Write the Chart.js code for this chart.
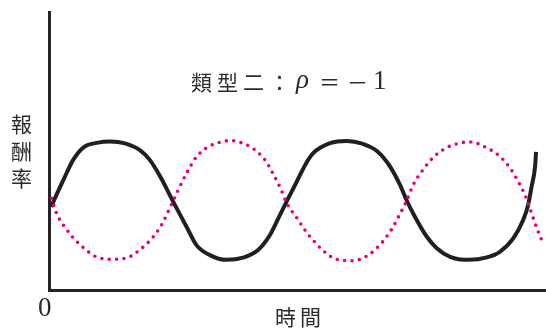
<!DOCTYPE html>
<html>
<head>
<meta charset="utf-8">
<script src="https://cdn.jsdelivr.net/npm/chart.js@4/dist/chart.umd.min.js"></script>
<style>
  body { margin: 0; background: #fff; }
  #wrap { position: relative; width: 546px; height: 329px; }
  .txt { position: absolute; color: #2b2b2b; white-space: nowrap; }
  .cjk { font-family: "Noto Sans CJK TC", "Noto Sans CJK JP", sans-serif; font-weight: 400; }
  .serif { font-family: "Liberation Serif", "DejaVu Serif", serif; }
</style>
</head>
<body>
<div id="wrap">
  <canvas id="chart" width="546" height="329"></canvas>
  <div class="txt cjk" style="left:191px; top:66px; font-size:21px; line-height:30px; letter-spacing:5px;">類型二：</div>
  <div class="txt serif" style="left:296px; top:64px; font-size:27px; line-height:30px; font-style:italic;">ρ</div>
  <div class="txt cjk" style="left:319px; top:66px; font-size:21px; line-height:30px;">＝</div>
  <div class="txt cjk" style="left:347px; top:66px; font-size:21px; line-height:30px;">－</div>
  <div class="txt serif" style="left:373px; top:65px; font-size:27px; line-height:30px;">1</div>
  <div class="txt cjk" style="left:11px; top:110px; font-size:21px; line-height:27px; white-space:normal; width:22px;">報<br>酬<br>率</div>
  <div class="txt cjk" style="left:275px; top:301px; font-size:21px; line-height:30px; letter-spacing:4px;">時間</div>
  <div class="txt serif" style="left:38px; top:292px; font-size:27px; line-height:30px;">0</div>
</div>
<script>
// time axis 0..100, return axis 0..100
var blackTime = [0.3, 2.8, 4.8, 7.0, 9.5, 12.2, 15.2, 18.2, 20.2, 22.3, 24.9, 27.6, 29.6, 32.3, 35.7, 39.0, 42.0, 44.4, 46.4, 48.0, 49.8, 51.5, 53.1, 56.5, 59.9, 63.0, 66.0, 68.6, 70.6, 71.9, 73.6, 76.0, 78.0, 80.7, 84.5, 88.1, 90.7, 93.4, 95.4, 96.4, 97.1, 97.8, 98.0];
var blackReturn = [30.0, 39.7, 47.0, 51.6, 53.0, 53.5, 52.8, 50.4, 46.9, 40.9, 31.9, 22.9, 16.3, 12.7, 11.0, 11.8, 14.5, 19.9, 27.1, 32.8, 39.1, 45.1, 49.3, 52.9, 53.7, 52.7, 50.0, 44.5, 37.9, 32.5, 26.5, 19.3, 15.2, 12.1, 11.0, 11.9, 13.9, 18.7, 25.3, 30.7, 37.3, 44.5, 49.8];

var pinkTime = [0.4, 1.5, 2.3, 3.3, 4.3, 6.6, 9.4, 12.5, 15.7, 18.6, 20.9, 22.8, 24.3, 26.1, 27.6, 29.6, 31.7, 34.7, 36.4, 38.0, 40.9, 43.4, 45.1, 46.6, 47.9, 49.8, 51.7, 52.8, 55.0, 57.8, 61.1, 64.2, 66.7, 68.7, 70.3, 71.9, 73.3, 75.2, 77.3, 80.0, 83.1, 84.8, 87.9, 90.6, 92.7, 94.6, 96.0, 97.1, 98.2, 99.5];
var pinkReturn = [33.1, 27.4, 24.7, 22.3, 19.9, 15.7, 12.1, 11.2, 11.8, 15.2, 19.3, 24.3, 29.9, 36.7, 42.1, 48.0, 51.3, 53.4, 53.8, 53.4, 51.1, 46.9, 41.7, 36.4, 31.0, 26.1, 21.1, 18.7, 14.5, 11.2, 10.7, 12.7, 16.7, 21.4, 26.5, 32.1, 38.1, 43.3, 47.8, 51.3, 53.1, 53.3, 51.4, 48.3, 44.1, 38.5, 33.3, 27.7, 22.1, 16.6];

function toPoints(xs, ys) {
  return xs.map(function (x, i) { return { x: x, y: ys[i] }; });
}

var axisColor = "#262324";

new Chart("chart", {
  type: "line",
  data: {
    datasets: [{
      label: "pink",
      data: toPoints(pinkTime, pinkReturn),
      borderColor: "#e5007f",
      borderWidth: 3.6,
      borderDash: [0, 7.4],
      borderCapStyle: "round",
      pointRadius: 0,
      cubicInterpolationMode: "monotone"
    }, {
      label: "black",
      data: toPoints(blackTime, blackReturn),
      borderColor: "#231f20",
      borderWidth: 4,
      pointRadius: 0,
      cubicInterpolationMode: "monotone"
    }]
  },
  options: {
    responsive: false,
    animation: false,
    devicePixelRatio: 1,
    layout: { padding: { left: 49.5, top: 12, right: 0, bottom: 38.5 } },
    plugins: { legend: { display: false }, tooltip: { enabled: false } },
    scales: {
      x: {
        type: "linear",
        min: 0,
        max: 100,
        grid: { display: false, drawTicks: false },
        ticks: { display: false },
        border: { display: true, color: axisColor, width: 3 }
      },
      y: {
        min: 0,
        max: 100,
        grid: { display: false, drawTicks: false },
        ticks: { display: false },
        border: { display: true, color: axisColor, width: 3 }
      }
    }
  }
});
</script>
</body>
</html>
